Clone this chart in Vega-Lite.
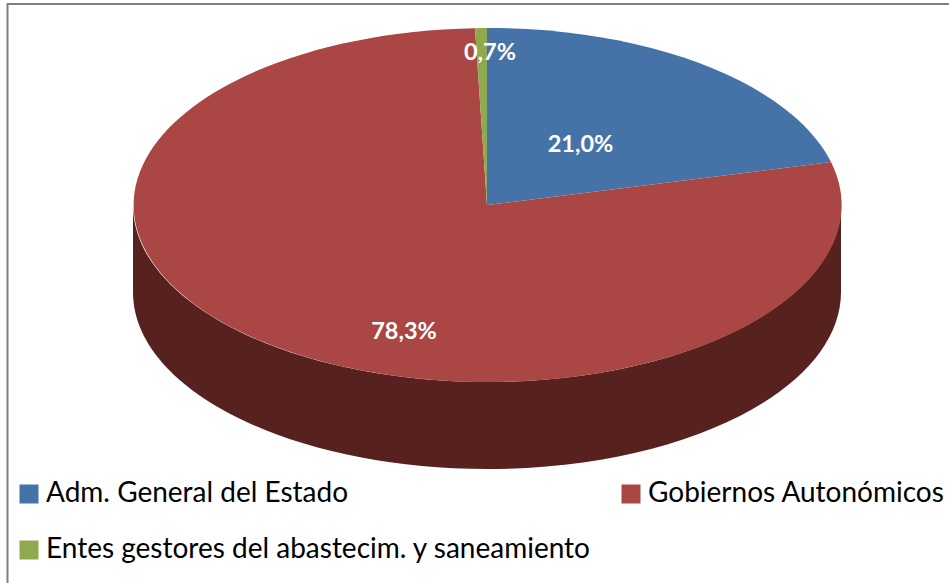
{
  "$schema": "https://vega.github.io/schema/vega-lite/v6.json",
  "width": 949,
  "height": 583,
  "padding": 0,
  "autosize": {"type": "none"},
  "background": "white",
  "view": {"stroke": null},
  "config": {"font": "Lato"},
  "data": {"values": [
    {"category": "Adm. General del Estado", "share": 21.0, "label": "21,0%"},
    {"category": "Gobiernos Autonómicos", "share": 78.3, "label": "78,3%"},
    {"category": "Entes gestores del abastecim. y saneamiento", "share": 0.7, "label": "0,7%"}
  ]},
  "layer": [
    {
      "transform": [{"filter": "datum.share == 21"}],
      "mark": {"type": "point", "filled": false, "opacity": 1, "strokeWidth": 2, "stroke": "#7f7f7f", "size": 4},
      "encoding": {"shape": {"value": "M-467,292 V-287.5 H475"}}
    },
    {
      "transform": [{"filter": "datum.share == 78.3"}],
      "mark": {"type": "point", "filled": true, "opacity": 1, "color": "#56211f", "size": 4},
      "encoding": {"shape": {"value": "M-341.5,-86.5 V0.5 A354,177 0 0 0 366.5,0.5 V-86.5 A354,177 0 0 1 -341.5,-86.5 Z"}}
    },
    {
      "mark": {"type": "point", "filled": true, "opacity": 1, "size": 4},
      "encoding": {
        "shape": {
          "field": "label",
          "type": "nominal",
          "legend": null,
          "scale": {
            "domain": ["21,0%", "78,3%", "0,7%"],
            "range": [
              "M12.5,-86.5 L12.5,-263.5 A354,177 0 0 1 356.5,-129.5 Z",
              "M12.5,-86.5 L356.5,-129.5 A354,177 0 1 1 0.5,-263.3 Z",
              "M12.5,-86.5 L0.5,-263.3 A354,177 0 0 1 12.5,-263.5 Z"
            ]
          }
        },
        "color": {
          "field": "category",
          "type": "nominal",
          "sort": null,
          "scale": {
            "domain": ["Adm. General del Estado", "Gobiernos Autonómicos", "Entes gestores del abastecim. y saneamiento"],
            "range": ["#4673a7", "#aa4644", "#8fa94f"]
          },
          "legend": {
            "title": null,
            "orient": "none",
            "legendX": 15,
            "legendY": 480,
            "direction": "horizontal",
            "columns": 2,
            "padding": 0,
            "symbolType": "square",
            "symbolSize": 361,
            "symbolStrokeWidth": 0,
            "symbolOpacity": 1,
            "labelFont": "Lato",
            "labelFontSize": 28,
            "labelColor": "#000000",
            "labelOffset": 3,
            "labelLimit": 700,
            "rowPadding": 28,
            "columnPadding": 25
          }
        }
      }
    },
    {
      "transform": [{"filter": "datum.share == 21"}],
      "mark": {"type": "text", "font": "Lato", "fontWeight": "bold", "fontSize": 23.5, "color": "white", "dx": 106, "dy": -147},
      "encoding": {"text": {"field": "label"}}
    },
    {
      "transform": [{"filter": "datum.share == 78.3"}],
      "mark": {"type": "text", "font": "Lato", "fontWeight": "bold", "fontSize": 23.5, "color": "white", "dx": -70.5, "dy": 40.5},
      "encoding": {"text": {"field": "label"}}
    },
    {
      "transform": [{"filter": "datum.share == 0.7"}],
      "mark": {"type": "text", "font": "Lato", "fontWeight": "bold", "fontSize": 23.5, "color": "white", "dx": 15.5, "dy": -238.5},
      "encoding": {"text": {"field": "label"}}
    }
  ]
}
